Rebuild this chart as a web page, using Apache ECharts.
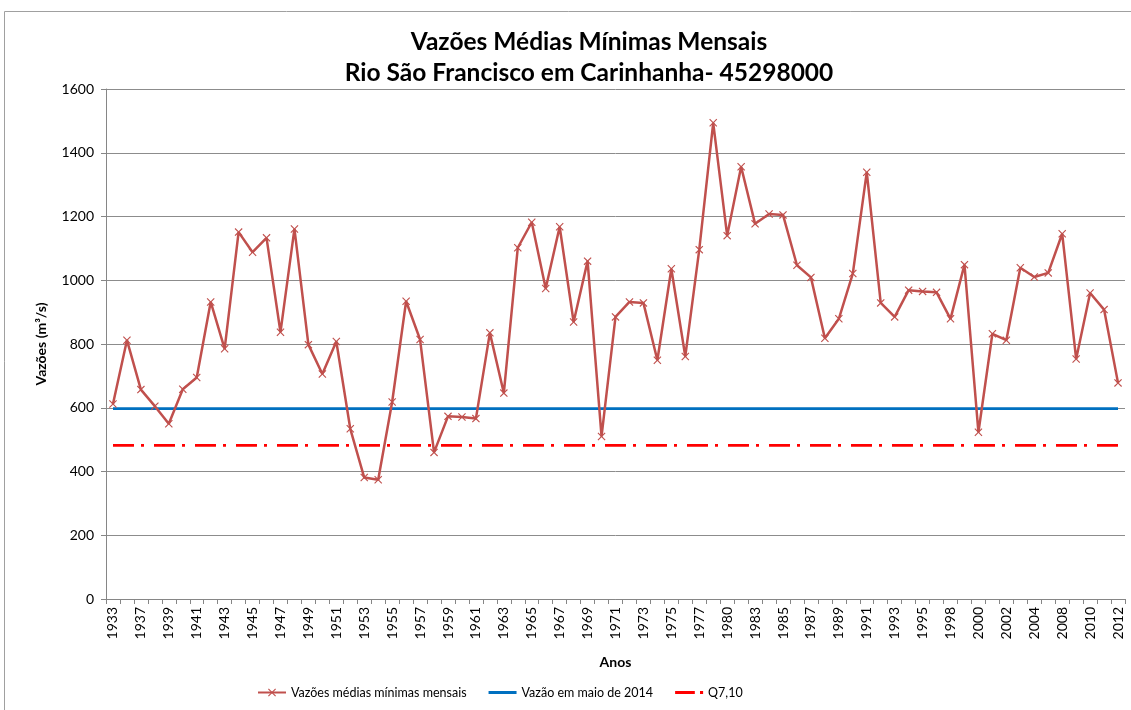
<!DOCTYPE html>
<html>
<head>
<meta charset="utf-8">
<title>Vazões Médias Mínimas Mensais</title>
<script src="https://cdn.jsdelivr.net/npm/echarts@6/dist/echarts.min.js"></script>
<style>
  html, body { margin: 0; padding: 0; background: #fff; }
  #chart { width: 1131px; height: 710px; }
</style>
</head>
<body>
<div id="chart"></div>
<script>
// anos (categorias) — nem todos os anos da série existem
const years = [
  '1933', '1936', '1937', '1938', '1939', '1940', '1941', '1942', '1943', '1944',
  '1945', '1946', '1947', '1948', '1949', '1950', '1951', '1952', '1953', '1954',
  '1955', '1956', '1957', '1958', '1959', '1960', '1961', '1962', '1963', '1964',
  '1965', '1966', '1967', '1968', '1969', '1970', '1971', '1972', '1973', '1974',
  '1975', '1976', '1977', '1979', '1980', '1982', '1983', '1984', '1985', '1986',
  '1987', '1988', '1989', '1990', '1991', '1992', '1993', '1994', '1995', '1997',
  '1998', '1999', '2000', '2001', '2002', '2003', '2004', '2007', '2008', '2009',
  '2010', '2011', '2012'
]

// vazões médias mínimas mensais (m³/s)
const minFlows = [
  612, 812, 657, 605, 550, 658, 695, 932, 785, 1151,
  1088, 1133, 837, 1161, 798, 706, 808, 534, 381, 374,
  618, 934, 814, 460, 573, 571, 566, 835, 646, 1102,
  1182, 974, 1168, 869, 1060, 510, 885, 932, 929, 749,
  1036, 761, 1096, 1494, 1140, 1356, 1177, 1208, 1205, 1047,
  1009, 818, 879, 1021, 1339, 929, 885, 969, 965, 962,
  879, 1049, 523, 832, 812, 1039, 1010, 1023, 1146, 753,
  960, 908, 678
]

const may2014Flow = 597   // vazão em maio de 2014
const q710 = 482          // Q7,10

const font = 'Lato, "Liberation Sans", sans-serif'
const xMark = 'path://M0,1L1,0L5,4L9,0L10,1L6,5L10,9L9,10L5,6L1,10L0,9L4,5Z'
// ícones da legenda para as linhas sem marcador
const solidIcon = 'path://M0,0H28V3H0Z'
const dashDotIcon = 'path://M0,0H19V3H0Z M24,0H27V3H24Z'

const chart = echarts.init(document.getElementById('chart'), null, { renderer: 'canvas' })

chart.setOption({
  animation: false,
  textStyle: { fontFamily: font, color: '#000' },
  title: {
    text: 'Vazões Médias Mínimas Mensais\nRio São Francisco em Carinhanha- 45298000',
    left: 584,
    top: 22,
    textAlign: 'center',
    textStyle: { fontSize: 24.5, fontWeight: 'bold', lineHeight: 31, fontFamily: font, color: '#000' }
  },
  graphic: [{
    type: 'rect',
    shape: { x: 4.5, y: 11.5, width: 1200, height: 800 },
    style: { fill: 'none', stroke: '#a0a0a0', lineWidth: 1 },
    silent: true,
    z: -1
  }],
  legend: {
    left: 252,
    top: 681,
    itemWidth: 28,
    itemHeight: 10,
    itemGap: 22,
    textStyle: { fontSize: 12.5, fontFamily: font, color: '#000' },
    data: [
      { name: 'Vazões médias mínimas mensais' },
      { name: 'Vazão em maio de 2014', icon: solidIcon, itemStyle: { color: '#0070C0' } },
      { name: 'Q7,10', icon: dashDotIcon, itemStyle: { color: '#FF0000' } }
    ]
  },
  grid: { left: 106, right: 6, top: 89, bottom: 111, containLabel: false },
  xAxis: {
    type: 'category',
    data: years,
    boundaryGap: true,
    name: 'Anos',
    nameLocation: 'middle',
    nameGap: 56,
    nameTextStyle: { fontSize: 14, fontWeight: 'bold', fontFamily: font },
    axisLine: { lineStyle: { color: '#868686', width: 1 } },
    axisTick: { show: true, interval: 0, length: 5, lineStyle: { color: '#868686' } },
    axisLabel: { interval: 1, rotate: 90, fontSize: 14, color: '#000', margin: 8 },
    splitLine: { show: false }
  },
  yAxis: {
    type: 'value',
    min: 0,
    max: 1600,
    interval: 200,
    name: 'Vazões (m³/s)',
    nameLocation: 'middle',
    nameGap: 58,
    nameTextStyle: { fontSize: 14, fontWeight: 'bold', fontFamily: font },
    axisLine: { show: true, lineStyle: { color: '#868686', width: 1 } },
    axisTick: { show: true, length: 5, lineStyle: { color: '#868686' } },
    axisLabel: { fontSize: 14, color: '#000', margin: 12, formatter: v => String(v) },
    splitLine: { lineStyle: { color: '#8c8c8c', width: 1 } }
  },
  series: [
    {
      name: 'Vazões médias mínimas mensais',
      type: 'line',
      data: minFlows,
      symbol: xMark,
      symbolSize: 8,
      lineStyle: { color: '#C0504D', width: 2.5 },
      itemStyle: { color: '#C0504D' },
      z: 3
    },
    {
      name: 'Vazão em maio de 2014',
      type: 'line',
      data: years.map(() => may2014Flow),
      symbol: 'none',
      lineStyle: { color: '#0070C0', width: 2.75 },
      itemStyle: { color: '#0070C0' },
      z: 2
    },
    {
      name: 'Q7,10',
      type: 'line',
      data: years.map(() => q710),
      symbol: 'none',
      lineStyle: { color: '#FF0000', width: 2.75, type: [21, 7, 3, 10] },
      itemStyle: { color: '#FF0000' },
      z: 2
    }
  ]
})
</script>
</body>
</html>
